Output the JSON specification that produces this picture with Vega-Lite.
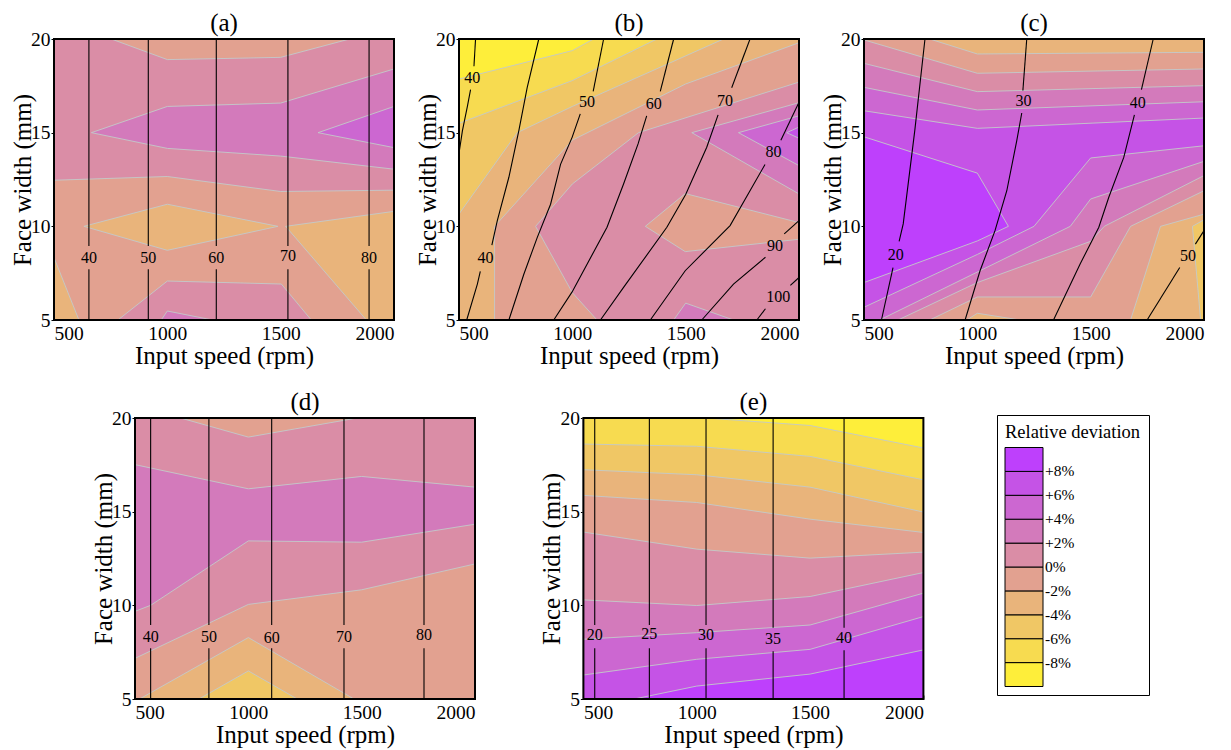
{
 "$schema": "https://vega.github.io/schema/vega-lite/v6.json",
 "background": "white",
 "padding": {"left": 10, "top": 11, "right": 5, "bottom": 5},
 "config": {
  "font": "Liberation Serif",
  "view": {"stroke": null},
  "axis": {"labelFont": "Liberation Serif", "labelFontSize": 19.5, "labelColor": "black", "titleFont": "Liberation Serif", "titleFontSize": 25, "titleFontWeight": "normal", "titleColor": "black", "grid": false, "domain": false, "ticks": true, "tickColor": "black", "tickWidth": 1, "zindex": 1},
  "axisX": {"titlePadding": 1, "labelPadding": 8, "tickSize": -4},
  "axisY": {"titlePadding": -5, "labelPadding": 1, "tickSize": 3},
  "title": {"font": "Liberation Serif", "fontSize": 25, "fontWeight": "normal", "color": "black", "offset": -7},
  "text": {"font": "Liberation Serif"},
  "legend": {"titleFont": "Liberation Serif", "titleFontSize": 18.5, "titleFontWeight": "normal", "titleColor": "black", "labelFont": "Liberation Serif", "labelFontSize": 15.5, "labelColor": "black", "labelOffset": 12, "gradientLength": 239, "gradientThickness": 38, "gradientStrokeColor": "black", "gradientStrokeWidth": 1, "strokeColor": "black", "padding": 8, "titlePadding": 6, "labelOverlap": false, "direction": "vertical"}
 },
 "datasets": {
  "pa": [
   {"id":1,"o":100,"x":500,"y":5,"v":1},{"id":1,"o":101,"x":2000,"y":5,"v":1},{"id":1,"o":102,"x":2000,"y":20,"v":1},{"id":1,"o":103,"x":500,"y":20,"v":1},{"id":1,"o":104,"x":500,"y":5,"v":1},
   {"id":2,"o":200,"x":753,"y":20,"v":-1},{"id":2,"o":201,"x":1000,"y":18.9,"v":-1},{"id":2,"o":202,"x":1500,"y":19.02,"v":-1},{"id":2,"o":203,"x":1804,"y":20,"v":-1},{"id":2,"o":204,"x":753,"y":20,"v":-1},
   {"id":3,"o":300,"x":500,"y":12.46,"v":-1},{"id":3,"o":301,"x":1000,"y":12.66,"v":-1},{"id":3,"o":302,"x":1500,"y":11.86,"v":-1},{"id":3,"o":303,"x":2000,"y":11.93,"v":-1},{"id":3,"o":304,"x":2000,"y":5,"v":-1},{"id":3,"o":305,"x":1635,"y":5,"v":-1},{"id":3,"o":306,"x":1503,"y":6.92,"v":-1},{"id":3,"o":307,"x":1000,"y":7.08,"v":-1},{"id":3,"o":308,"x":782,"y":5,"v":-1},{"id":3,"o":309,"x":500,"y":5,"v":-1},{"id":3,"o":310,"x":500,"y":12.46,"v":-1},
   {"id":4,"o":400,"x":632,"y":10,"v":-3},{"id":4,"o":401,"x":1000,"y":11.18,"v":-3},{"id":4,"o":402,"x":1488,"y":10,"v":-3},{"id":4,"o":403,"x":1000,"y":8.72,"v":-3},{"id":4,"o":404,"x":632,"y":10,"v":-3},
   {"id":5,"o":500,"x":1522,"y":10,"v":-3},{"id":5,"o":501,"x":2000,"y":10.8,"v":-3},{"id":5,"o":502,"x":2000,"y":5,"v":-3},{"id":5,"o":503,"x":1878,"y":5,"v":-3},{"id":5,"o":504,"x":1522,"y":10,"v":-3},
   {"id":6,"o":600,"x":500,"y":8.33,"v":-3},{"id":6,"o":601,"x":610,"y":5,"v":-3},{"id":6,"o":602,"x":500,"y":5,"v":-3},{"id":6,"o":603,"x":500,"y":8.33,"v":-3},
   {"id":7,"o":700,"x":665,"y":15,"v":3},{"id":7,"o":701,"x":1000,"y":16.4,"v":3},{"id":7,"o":702,"x":1500,"y":16.58,"v":3},{"id":7,"o":703,"x":2000,"y":18.4,"v":3},{"id":7,"o":704,"x":2000,"y":13.05,"v":3},{"id":7,"o":705,"x":1500,"y":13.75,"v":3},{"id":7,"o":706,"x":1000,"y":14.16,"v":3},{"id":7,"o":707,"x":665,"y":15,"v":3},
   {"id":8,"o":800,"x":973,"y":5,"v":3},{"id":8,"o":801,"x":1000,"y":5.48,"v":3},{"id":8,"o":802,"x":1200,"y":5,"v":3},{"id":8,"o":803,"x":973,"y":5,"v":3},
   {"id":9,"o":900,"x":1665,"y":15,"v":5},{"id":9,"o":901,"x":2000,"y":16.4,"v":5},{"id":9,"o":902,"x":2000,"y":14.2,"v":5},{"id":9,"o":903,"x":1665,"y":15,"v":5}
  ],
  "la": [
   {"s":1,"o":100,"x":654,"y":20},{"s":1,"o":101,"x":654,"y":8.95},{"s":2,"o":200,"x":654,"y":7.71},{"s":2,"o":201,"x":654,"y":5},
   {"s":3,"o":300,"x":916,"y":20},{"s":3,"o":301,"x":916,"y":8.95},{"s":4,"o":400,"x":916,"y":7.71},{"s":4,"o":401,"x":916,"y":5},
   {"s":5,"o":500,"x":1216,"y":20},{"s":5,"o":501,"x":1216,"y":8.95},{"s":6,"o":600,"x":1216,"y":7.71},{"s":6,"o":601,"x":1216,"y":5},
   {"s":7,"o":700,"x":1532,"y":20},{"s":7,"o":701,"x":1532,"y":8.95},{"s":8,"o":800,"x":1532,"y":7.71},{"s":8,"o":801,"x":1532,"y":5},
   {"s":9,"o":900,"x":1890,"y":20},{"s":9,"o":901,"x":1890,"y":8.95},{"s":10,"o":1000,"x":1890,"y":7.71},{"s":10,"o":1001,"x":1890,"y":5}
  ],
  "ta": [
   {"x":654,"y":8.33,"t":"40"},{"x":916,"y":8.33,"t":"50"},{"x":1216,"y":8.33,"t":"60"},{"x":1532,"y":8.42,"t":"70"},{"x":1890,"y":8.33,"t":"80"}
  ],
  "pb": [
   {"id":1,"o":100,"x":500,"y":5,"v":-9},{"id":1,"o":101,"x":2000,"y":5,"v":-9},{"id":1,"o":102,"x":2000,"y":20,"v":-9},{"id":1,"o":103,"x":500,"y":20,"v":-9},{"id":1,"o":104,"x":500,"y":5,"v":-9},
   {"id":2,"o":200,"x":500,"y":17.86,"v":-7},{"id":2,"o":201,"x":1000,"y":19.38,"v":-7},{"id":2,"o":202,"x":1094,"y":20,"v":-7},{"id":2,"o":203,"x":2000,"y":20,"v":-7},{"id":2,"o":204,"x":2000,"y":5,"v":-7},{"id":2,"o":205,"x":500,"y":5,"v":-7},{"id":2,"o":206,"x":500,"y":17.86,"v":-7},
   {"id":3,"o":300,"x":500,"y":15.5,"v":-5},{"id":3,"o":301,"x":1000,"y":17.78,"v":-5},{"id":3,"o":302,"x":1373,"y":20,"v":-5},{"id":3,"o":303,"x":2000,"y":20,"v":-5},{"id":3,"o":304,"x":2000,"y":5,"v":-5},{"id":3,"o":305,"x":500,"y":5,"v":-5},{"id":3,"o":306,"x":500,"y":15.5,"v":-5},
   {"id":4,"o":400,"x":500,"y":10.66,"v":-3},{"id":4,"o":401,"x":757,"y":15,"v":-3},{"id":4,"o":402,"x":1000,"y":16.4,"v":-3},{"id":4,"o":403,"x":1667,"y":20,"v":-3},{"id":4,"o":404,"x":2000,"y":20,"v":-3},{"id":4,"o":405,"x":2000,"y":5,"v":-3},{"id":4,"o":406,"x":500,"y":5,"v":-3},{"id":4,"o":407,"x":500,"y":10.66,"v":-3},
   {"id":5,"o":500,"x":657,"y":5,"v":-1},{"id":5,"o":501,"x":657,"y":10,"v":-1},{"id":5,"o":502,"x":1000,"y":14.6,"v":-1},{"id":5,"o":503,"x":1500,"y":17.6,"v":-1},{"id":5,"o":504,"x":2000,"y":19.8,"v":-1},{"id":5,"o":505,"x":2000,"y":5,"v":-1},{"id":5,"o":506,"x":657,"y":5,"v":-1},
   {"id":6,"o":600,"x":838,"y":10,"v":1},{"id":6,"o":601,"x":1000,"y":12.26,"v":1},{"id":6,"o":602,"x":1292,"y":15,"v":1},{"id":6,"o":603,"x":2000,"y":17.7,"v":1},{"id":6,"o":604,"x":2000,"y":5,"v":1},{"id":6,"o":605,"x":1109,"y":5,"v":1},{"id":6,"o":606,"x":1000,"y":6.46,"v":1},{"id":6,"o":607,"x":838,"y":10,"v":1},
   {"id":7,"o":700,"x":1322,"y":10,"v":-1},{"id":7,"o":701,"x":1498,"y":11.75,"v":-1},{"id":7,"o":702,"x":2000,"y":10.2,"v":-1},{"id":7,"o":703,"x":2000,"y":9.31,"v":-1},{"id":7,"o":704,"x":1498,"y":8.65,"v":-1},{"id":7,"o":705,"x":1322,"y":10,"v":-1},
   {"id":8,"o":800,"x":1527,"y":15,"v":3},{"id":8,"o":801,"x":2000,"y":16.6,"v":3},{"id":8,"o":802,"x":2000,"y":11.73,"v":3},{"id":8,"o":803,"x":1527,"y":15,"v":3},
   {"id":9,"o":900,"x":1447,"y":5,"v":3},{"id":9,"o":901,"x":1500,"y":5.9,"v":3},{"id":9,"o":902,"x":1711,"y":5,"v":3},{"id":9,"o":903,"x":1447,"y":5,"v":3},
   {"id":10,"o":1000,"x":1733,"y":15,"v":5},{"id":10,"o":1001,"x":2000,"y":15.9,"v":5},{"id":10,"o":1002,"x":2000,"y":13.24,"v":5},{"id":10,"o":1003,"x":1733,"y":15,"v":5},
   {"id":11,"o":1100,"x":1946,"y":15,"v":7},{"id":11,"o":1101,"x":2000,"y":15.3,"v":7},{"id":11,"o":1102,"x":2000,"y":14.7,"v":7},{"id":11,"o":1103,"x":1946,"y":15,"v":7}
  ],
  "lb": [
   {"s":1,"o":100,"x":573,"y":20},{"s":1,"o":101,"x":566,"y":18.55},
   {"s":2,"o":200,"x":551,"y":17.3},{"s":2,"o":201,"x":537,"y":16.4},{"s":2,"o":202,"x":515,"y":15.1},{"s":2,"o":203,"x":500,"y":13.9},
   {"s":3,"o":300,"x":852,"y":20},{"s":3,"o":301,"x":801,"y":17.42},{"s":3,"o":302,"x":764,"y":15.11},{"s":3,"o":303,"x":720,"y":12.62},{"s":3,"o":304,"x":669,"y":10.3},{"s":3,"o":305,"x":645,"y":9.0},
   {"s":4,"o":400,"x":594,"y":7.6},{"s":4,"o":401,"x":581,"y":6.92},{"s":4,"o":402,"x":534,"y":5},
   {"s":5,"o":500,"x":720,"y":5},{"s":5,"o":501,"x":786,"y":7.44},{"s":5,"o":502,"x":845,"y":9.4},{"s":5,"o":503,"x":904,"y":11.18},{"s":5,"o":504,"x":948,"y":13.31},{"s":5,"o":505,"x":999,"y":14.75},{"s":5,"o":506,"x":1035,"y":16.0},
   {"s":6,"o":600,"x":1092,"y":17.2},{"s":6,"o":601,"x":1138,"y":20},
   {"s":7,"o":700,"x":918,"y":5},{"s":7,"o":701,"x":999,"y":6.5},{"s":7,"o":702,"x":1153,"y":9.95},{"s":7,"o":703,"x":1226,"y":12.26},{"s":7,"o":704,"x":1290,"y":14.4},{"s":7,"o":705,"x":1328,"y":15.9},
   {"s":8,"o":800,"x":1388,"y":17.2},{"s":8,"o":801,"x":1447,"y":20},
   {"s":9,"o":900,"x":1124,"y":5},{"s":9,"o":901,"x":1226,"y":6.74},{"s":9,"o":902,"x":1417,"y":9.95},{"s":9,"o":903,"x":1500,"y":11.7},{"s":9,"o":904,"x":1593,"y":14.22},{"s":9,"o":905,"x":1643,"y":15.95},
   {"s":10,"o":1000,"x":1703,"y":17.4},{"s":10,"o":1001,"x":1784,"y":20},
   {"s":11,"o":1100,"x":1344,"y":5},{"s":11,"o":1101,"x":1498,"y":7.63},{"s":11,"o":1102,"x":1696,"y":10.04},{"s":11,"o":1103,"x":1850,"y":13.3},
   {"s":12,"o":1200,"x":1920,"y":14.6},{"s":12,"o":1201,"x":2000,"y":16.62},
   {"s":13,"o":1300,"x":1571,"y":5},{"s":13,"o":1301,"x":1711,"y":6.92},{"s":13,"o":1302,"x":1852,"y":8.35},
   {"s":14,"o":1400,"x":1935,"y":9.6},{"s":14,"o":1401,"x":2000,"y":10.3},
   {"s":15,"o":1500,"x":1814,"y":5},{"s":15,"o":1501,"x":1852,"y":5.6},
   {"s":16,"o":1600,"x":1962,"y":6.85},{"s":16,"o":1601,"x":2000,"y":7.27}
  ],
  "tb": [
   {"x":559,"y":17.9,"t":"40"},{"x":617,"y":8.29,"t":"40"},{"x":1065,"y":16.62,"t":"50"},{"x":1359,"y":16.53,"t":"60"},{"x":1674,"y":16.7,"t":"70"},{"x":1887,"y":13.95,"t":"80"},{"x":1894,"y":8.97,"t":"90"},{"x":1909,"y":6.21,"t":"100"}
  ],
  "pc": [
   {"id":1,"o":100,"x":500,"y":5,"v":-5},{"id":1,"o":101,"x":2000,"y":5,"v":-5},{"id":1,"o":102,"x":2000,"y":20,"v":-5},{"id":1,"o":103,"x":500,"y":20,"v":-5},{"id":1,"o":104,"x":500,"y":5,"v":-5},
   {"id":2,"o":200,"x":500,"y":5,"v":-3},{"id":2,"o":201,"x":1985,"y":5,"v":-3},{"id":2,"o":202,"x":1949,"y":10,"v":-3},{"id":2,"o":203,"x":2000,"y":10.35,"v":-3},{"id":2,"o":204,"x":2000,"y":20,"v":-3},{"id":2,"o":205,"x":500,"y":20,"v":-3},{"id":2,"o":206,"x":500,"y":5,"v":-3},
   {"id":3,"o":300,"x":500,"y":20,"v":-1},{"id":3,"o":301,"x":790,"y":20,"v":-1},{"id":3,"o":302,"x":1000,"y":19.2,"v":-1},{"id":3,"o":303,"x":2000,"y":19.29,"v":-1},{"id":3,"o":304,"x":2000,"y":10.65,"v":-1},{"id":3,"o":305,"x":1808,"y":10,"v":-1},{"id":3,"o":306,"x":1676,"y":5,"v":-1},{"id":3,"o":307,"x":1189,"y":5,"v":-1},{"id":3,"o":308,"x":1000,"y":5.36,"v":-1},{"id":3,"o":309,"x":953,"y":5,"v":-1},{"id":3,"o":310,"x":500,"y":5,"v":-1},{"id":3,"o":311,"x":500,"y":20,"v":-1},
   {"id":4,"o":400,"x":500,"y":19.95,"v":1},{"id":4,"o":401,"x":1000,"y":18.17,"v":1},{"id":4,"o":402,"x":2000,"y":18.4,"v":1},{"id":4,"o":403,"x":2000,"y":11.9,"v":1},{"id":4,"o":404,"x":1676,"y":10,"v":1},{"id":4,"o":405,"x":1500,"y":6.23,"v":1},{"id":4,"o":406,"x":1000,"y":6.23,"v":1},{"id":4,"o":407,"x":790,"y":5,"v":1},{"id":4,"o":408,"x":500,"y":5,"v":1},{"id":4,"o":409,"x":500,"y":19.95,"v":1},
   {"id":5,"o":500,"x":500,"y":18.7,"v":3},{"id":5,"o":501,"x":1000,"y":17.19,"v":3},{"id":5,"o":502,"x":2000,"y":17.51,"v":3},{"id":5,"o":503,"x":2000,"y":12.71,"v":3},{"id":5,"o":504,"x":1560,"y":10,"v":3},{"id":5,"o":505,"x":1500,"y":9.2,"v":3},{"id":5,"o":506,"x":1000,"y":7.0,"v":3},{"id":5,"o":507,"x":650,"y":5,"v":3},{"id":5,"o":508,"x":500,"y":5,"v":3},{"id":5,"o":509,"x":500,"y":18.7,"v":3},
   {"id":6,"o":600,"x":500,"y":17.42,"v":5},{"id":6,"o":601,"x":1000,"y":16.21,"v":5},{"id":6,"o":602,"x":2000,"y":16.65,"v":5},{"id":6,"o":603,"x":2000,"y":13.47,"v":5},{"id":6,"o":604,"x":1500,"y":11.46,"v":5},{"id":6,"o":605,"x":1410,"y":10,"v":5},{"id":6,"o":606,"x":1000,"y":7.56,"v":5},{"id":6,"o":607,"x":569,"y":5,"v":5},{"id":6,"o":608,"x":500,"y":5,"v":5},{"id":6,"o":609,"x":500,"y":17.42,"v":5},
   {"id":7,"o":700,"x":500,"y":16.17,"v":7},{"id":7,"o":701,"x":1000,"y":15.23,"v":7},{"id":7,"o":702,"x":2000,"y":15.78,"v":7},{"id":7,"o":703,"x":2000,"y":14.3,"v":7},{"id":7,"o":704,"x":1500,"y":13.65,"v":7},{"id":7,"o":705,"x":1250,"y":10,"v":7},{"id":7,"o":706,"x":1000,"y":8.5,"v":7},{"id":7,"o":707,"x":500,"y":5.68,"v":7},{"id":7,"o":708,"x":500,"y":16.17,"v":7},
   {"id":8,"o":800,"x":500,"y":14.78,"v":9},{"id":8,"o":801,"x":1000,"y":12.84,"v":9},{"id":8,"o":802,"x":1137,"y":10,"v":9},{"id":8,"o":803,"x":1000,"y":9.22,"v":9},{"id":8,"o":804,"x":500,"y":7.0,"v":9},{"id":8,"o":805,"x":500,"y":14.78,"v":9}
  ],
  "lc": [
   {"s":1,"o":100,"x":769,"y":20},{"s":1,"o":101,"x":724,"y":15.11},{"s":1,"o":102,"x":673,"y":10.13},{"s":1,"o":103,"x":655,"y":9.2},
   {"s":2,"o":200,"x":628,"y":7.8},{"s":2,"o":201,"x":577,"y":5},
   {"s":3,"o":300,"x":1218,"y":20},{"s":3,"o":301,"x":1201,"y":17.25},
   {"s":4,"o":400,"x":1196,"y":16.05},{"s":4,"o":401,"x":1174,"y":14.57},{"s":4,"o":402,"x":1130,"y":11.9},{"s":4,"o":403,"x":1078,"y":9.77},{"s":4,"o":404,"x":1012,"y":7.63},{"s":4,"o":405,"x":946,"y":5},
   {"s":5,"o":500,"x":1776,"y":20},{"s":5,"o":501,"x":1724,"y":17.3},
   {"s":6,"o":600,"x":1693,"y":15.95},{"s":6,"o":601,"x":1646,"y":13.68},{"s":6,"o":602,"x":1580,"y":11.55},{"s":6,"o":603,"x":1536,"y":9.95},{"s":6,"o":604,"x":1454,"y":8.0},{"s":6,"o":605,"x":1336,"y":5},
   {"s":7,"o":700,"x":2000,"y":9.77},{"s":7,"o":701,"x":1962,"y":9.05},
   {"s":8,"o":800,"x":1893,"y":7.8},{"s":8,"o":801,"x":1749,"y":5}
  ],
  "tc": [
   {"x":640,"y":8.49,"t":"20"},{"x":1204,"y":16.67,"t":"30"},{"x":1708,"y":16.57,"t":"40"},{"x":1929,"y":8.43,"t":"50"}
  ],
  "pd": [
   {"id":1,"o":100,"x":500,"y":5,"v":1},{"id":1,"o":101,"x":2000,"y":5,"v":1},{"id":1,"o":102,"x":2000,"y":20,"v":1},{"id":1,"o":103,"x":500,"y":20,"v":1},{"id":1,"o":104,"x":500,"y":5,"v":1},
   {"id":2,"o":200,"x":701,"y":20,"v":-1},{"id":2,"o":201,"x":1000,"y":18.98,"v":-1},{"id":2,"o":202,"x":1480,"y":20,"v":-1},{"id":2,"o":203,"x":701,"y":20,"v":-1},
   {"id":3,"o":300,"x":500,"y":17.51,"v":3},{"id":3,"o":301,"x":1000,"y":16.22,"v":3},{"id":3,"o":302,"x":1500,"y":16.88,"v":3},{"id":3,"o":303,"x":2000,"y":16.31,"v":3},{"id":3,"o":304,"x":2000,"y":14.33,"v":3},{"id":3,"o":305,"x":1500,"y":13.37,"v":3},{"id":3,"o":306,"x":1000,"y":13.44,"v":3},{"id":3,"o":307,"x":569,"y":10,"v":3},{"id":3,"o":308,"x":500,"y":9.68,"v":3},{"id":3,"o":309,"x":500,"y":17.51,"v":3},
   {"id":4,"o":400,"x":500,"y":7.17,"v":-1},{"id":4,"o":401,"x":1000,"y":10.05,"v":-1},{"id":4,"o":402,"x":1500,"y":10.83,"v":-1},{"id":4,"o":403,"x":2000,"y":12.21,"v":-1},{"id":4,"o":404,"x":2000,"y":5,"v":-1},{"id":4,"o":405,"x":500,"y":5,"v":-1},{"id":4,"o":406,"x":500,"y":7.17,"v":-1},
   {"id":5,"o":500,"x":520,"y":5,"v":-3},{"id":5,"o":501,"x":1000,"y":8.28,"v":-3},{"id":5,"o":502,"x":1466,"y":5,"v":-3},{"id":5,"o":503,"x":520,"y":5,"v":-3},
   {"id":6,"o":600,"x":782,"y":5,"v":-5},{"id":6,"o":601,"x":1000,"y":6.5,"v":-5},{"id":6,"o":602,"x":1216,"y":5,"v":-5},{"id":6,"o":603,"x":782,"y":5,"v":-5}
  ],
  "ld": [
   {"s":1,"o":100,"x":569,"y":20},{"s":1,"o":101,"x":569,"y":8.95},{"s":2,"o":200,"x":569,"y":7.71},{"s":2,"o":201,"x":569,"y":5},
   {"s":3,"o":300,"x":826,"y":20},{"s":3,"o":301,"x":826,"y":8.95},{"s":4,"o":400,"x":826,"y":7.71},{"s":4,"o":401,"x":826,"y":5},
   {"s":5,"o":500,"x":1103,"y":20},{"s":5,"o":501,"x":1103,"y":8.95},{"s":6,"o":600,"x":1103,"y":7.71},{"s":6,"o":601,"x":1103,"y":5},
   {"s":7,"o":700,"x":1422,"y":20},{"s":7,"o":701,"x":1422,"y":8.95},{"s":8,"o":800,"x":1422,"y":7.71},{"s":8,"o":801,"x":1422,"y":5},
   {"s":9,"o":900,"x":1775,"y":20},{"s":9,"o":901,"x":1775,"y":8.95},{"s":10,"o":1000,"x":1775,"y":7.71},{"s":10,"o":1001,"x":1775,"y":5}
  ],
  "td": [
   {"x":569,"y":8.33,"t":"40"},{"x":826,"y":8.33,"t":"50"},{"x":1103,"y":8.24,"t":"60"},{"x":1422,"y":8.33,"t":"70"},{"x":1775,"y":8.42,"t":"80"}
  ],
  "pe": [
   {"id":1,"o":100,"x":500,"y":5,"v":9},{"id":1,"o":101,"x":2000,"y":5,"v":9},{"id":1,"o":102,"x":2000,"y":20,"v":9},{"id":1,"o":103,"x":500,"y":20,"v":9},{"id":1,"o":104,"x":500,"y":5,"v":9},
   {"id":2,"o":200,"x":500,"y":20,"v":7},{"id":2,"o":201,"x":500,"y":5,"v":7},{"id":2,"o":202,"x":724,"y":5,"v":7},{"id":2,"o":203,"x":1000,"y":5.69,"v":7},{"id":2,"o":204,"x":1500,"y":6.33,"v":7},{"id":2,"o":205,"x":2000,"y":7.62,"v":7},{"id":2,"o":206,"x":2000,"y":20,"v":7},{"id":2,"o":207,"x":500,"y":20,"v":7},
   {"id":3,"o":300,"x":500,"y":6.28,"v":5},{"id":3,"o":301,"x":1000,"y":7.12,"v":5},{"id":3,"o":302,"x":1500,"y":7.65,"v":5},{"id":3,"o":303,"x":2000,"y":9.4,"v":5},{"id":3,"o":304,"x":2000,"y":20,"v":5},{"id":3,"o":305,"x":500,"y":20,"v":5},{"id":3,"o":306,"x":500,"y":6.28,"v":5},
   {"id":4,"o":400,"x":500,"y":8.19,"v":3},{"id":4,"o":401,"x":1000,"y":8.54,"v":3},{"id":4,"o":402,"x":1500,"y":8.95,"v":3},{"id":4,"o":403,"x":2000,"y":10.65,"v":3},{"id":4,"o":404,"x":2000,"y":20,"v":3},{"id":4,"o":405,"x":500,"y":20,"v":3},{"id":4,"o":406,"x":500,"y":8.19,"v":3},
   {"id":5,"o":500,"x":500,"y":10.29,"v":1},{"id":5,"o":501,"x":1000,"y":9.99,"v":1},{"id":5,"o":502,"x":1500,"y":10.47,"v":1},{"id":5,"o":503,"x":2000,"y":11.75,"v":1},{"id":5,"o":504,"x":2000,"y":20,"v":1},{"id":5,"o":505,"x":500,"y":20,"v":1},{"id":5,"o":506,"x":500,"y":10.29,"v":1},
   {"id":6,"o":600,"x":500,"y":13.91,"v":-1},{"id":6,"o":601,"x":1000,"y":13.0,"v":-1},{"id":6,"o":602,"x":1500,"y":12.52,"v":-1},{"id":6,"o":603,"x":2000,"y":12.84,"v":-1},{"id":6,"o":604,"x":2000,"y":20,"v":-1},{"id":6,"o":605,"x":500,"y":20,"v":-1},{"id":6,"o":606,"x":500,"y":13.91,"v":-1},
   {"id":7,"o":700,"x":500,"y":15.87,"v":-3},{"id":7,"o":701,"x":1000,"y":15.49,"v":-3},{"id":7,"o":702,"x":1500,"y":14.6,"v":-3},{"id":7,"o":703,"x":2000,"y":13.89,"v":-3},{"id":7,"o":704,"x":2000,"y":20,"v":-3},{"id":7,"o":705,"x":500,"y":20,"v":-3},{"id":7,"o":706,"x":500,"y":15.87,"v":-3},
   {"id":8,"o":800,"x":500,"y":17.24,"v":-5},{"id":8,"o":801,"x":1000,"y":16.97,"v":-5},{"id":8,"o":802,"x":1500,"y":16.31,"v":-5},{"id":8,"o":803,"x":2000,"y":14.98,"v":-5},{"id":8,"o":804,"x":2000,"y":20,"v":-5},{"id":8,"o":805,"x":500,"y":20,"v":-5},{"id":8,"o":806,"x":500,"y":17.24,"v":-5},
   {"id":9,"o":900,"x":500,"y":18.61,"v":-7},{"id":9,"o":901,"x":1000,"y":18.49,"v":-7},{"id":9,"o":902,"x":1500,"y":17.95,"v":-7},{"id":9,"o":903,"x":2000,"y":16.7,"v":-7},{"id":9,"o":904,"x":2000,"y":20,"v":-7},{"id":9,"o":905,"x":500,"y":20,"v":-7},{"id":9,"o":906,"x":500,"y":18.61,"v":-7},
   {"id":10,"o":1000,"x":1040,"y":20,"v":-9},{"id":10,"o":1001,"x":1500,"y":19.6,"v":-9},{"id":10,"o":1002,"x":2000,"y":18.4,"v":-9},{"id":10,"o":1003,"x":2000,"y":20,"v":-9},{"id":10,"o":1004,"x":1040,"y":20,"v":-9}
  ],
  "le": [
   {"s":1,"o":100,"x":550,"y":20},{"s":1,"o":101,"x":550,"y":8.95},{"s":2,"o":200,"x":550,"y":7.71},{"s":2,"o":201,"x":550,"y":5},
   {"s":3,"o":300,"x":791,"y":20},{"s":3,"o":301,"x":791,"y":8.95},{"s":4,"o":400,"x":791,"y":7.71},{"s":4,"o":401,"x":791,"y":5},
   {"s":5,"o":500,"x":1041,"y":20},{"s":5,"o":501,"x":1041,"y":8.95},{"s":6,"o":600,"x":1041,"y":7.71},{"s":6,"o":601,"x":1041,"y":5},
   {"s":7,"o":700,"x":1337,"y":20},{"s":7,"o":701,"x":1337,"y":8.8},{"s":8,"o":800,"x":1337,"y":7.55},{"s":8,"o":801,"x":1337,"y":5},
   {"s":9,"o":900,"x":1650,"y":20},{"s":9,"o":901,"x":1650,"y":8.8},{"s":10,"o":1000,"x":1650,"y":7.6},{"s":10,"o":1001,"x":1650,"y":5}
  ],
  "te": [
   {"x":550,"y":8.42,"t":"20"},{"x":791,"y":8.47,"t":"25"},{"x":1041,"y":8.42,"t":"30"},{"x":1337,"y":8.19,"t":"35"},{"x":1650,"y":8.24,"t":"40"}
  ]
 },
 "spacing": 21,
 "vconcat": [
  {"bounds": "flush", "spacing": 65, "hconcat": [
   {"width": 340, "height": 281, "title": "(a)", "layer": [
    {"data": {"name": "pa"}, "mark": {"type": "line", "filled": true, "stroke": "#c3c9c9", "strokeWidth": 0.9},
     "encoding": {"x": {"field": "x", "type": "quantitative", "scale": {"domain": [500, 2000], "nice": false, "zero": false}, "axis": {"title": "Input speed (rpm)", "format": "d", "values": [500, 1000, 1500, 2000]}},
      "y": {"field": "y", "type": "quantitative", "scale": {"domain": [5, 20], "nice": false, "zero": false}, "axis": {"title": "Face width (mm)", "format": "d", "values": [5, 10, 15, 20]}},
      "detail": {"field": "id", "type": "nominal"}, "order": {"field": "o", "type": "quantitative"},
      "color": {"field": "v", "type": "quantitative", "scale": {"type": "threshold", "domain": [-8, -6, -4, -2, 0, 2, 4, 6, 8], "range": ["#feee3a", "#f7db50", "#f0c765", "#e9b47b", "#e2a190", "#da8da6", "#d37abb", "#cc67d1", "#c553e6", "#be40fc"]}, "legend": {"type": "gradient", "orient": "none", "legendX": 943, "legendY": 376, "title": "Relative deviation", "labelExpr": "isFinite(datum.value) ? (datum.value > 0 ? '+' : '') + datum.value + '%' : ''"}}}},
    {"data": {"name": "la"}, "mark": {"type": "line", "color": "black", "strokeWidth": 1.1},
     "encoding": {"x": {"field": "x", "type": "quantitative"}, "y": {"field": "y", "type": "quantitative"}, "detail": {"field": "s", "type": "nominal"}, "order": {"field": "o", "type": "quantitative"}}},
    {"data": {"name": "ta"}, "mark": {"type": "text", "fontSize": 16, "color": "black", "baseline": "middle"},
     "encoding": {"x": {"field": "x", "type": "quantitative"}, "y": {"field": "y", "type": "quantitative"}, "text": {"field": "t", "type": "nominal"}}},
    {"data": {"values": [{}]}, "mark": {"type": "rect", "filled": false, "color": "black", "strokeWidth": 2},
     "encoding": {"x": {"datum": 500}, "x2": {"datum": 2000}, "y": {"datum": 5}, "y2": {"datum": 20}}}
   ]},
   {"width": 340, "height": 281, "title": "(b)", "layer": [
    {"data": {"name": "pb"}, "mark": {"type": "line", "filled": true, "stroke": "#c3c9c9", "strokeWidth": 0.9},
     "encoding": {"x": {"field": "x", "type": "quantitative", "scale": {"domain": [500, 2000], "nice": false, "zero": false}, "axis": {"title": "Input speed (rpm)", "format": "d", "values": [500, 1000, 1500, 2000]}},
      "y": {"field": "y", "type": "quantitative", "scale": {"domain": [5, 20], "nice": false, "zero": false}, "axis": {"title": "Face width (mm)", "format": "d", "values": [5, 10, 15, 20]}},
      "detail": {"field": "id", "type": "nominal"}, "order": {"field": "o", "type": "quantitative"},
      "color": {"field": "v", "type": "quantitative", "scale": {"type": "threshold", "domain": [-8, -6, -4, -2, 0, 2, 4, 6, 8], "range": ["#feee3a", "#f7db50", "#f0c765", "#e9b47b", "#e2a190", "#da8da6", "#d37abb", "#cc67d1", "#c553e6", "#be40fc"]}, "legend": {"type": "gradient", "orient": "none", "legendX": 943, "legendY": 376, "title": "Relative deviation", "labelExpr": "isFinite(datum.value) ? (datum.value > 0 ? '+' : '') + datum.value + '%' : ''"}}}},
    {"data": {"name": "lb"}, "mark": {"type": "line", "color": "black", "strokeWidth": 1.1},
     "encoding": {"x": {"field": "x", "type": "quantitative"}, "y": {"field": "y", "type": "quantitative"}, "detail": {"field": "s", "type": "nominal"}, "order": {"field": "o", "type": "quantitative"}}},
    {"data": {"name": "tb"}, "mark": {"type": "text", "fontSize": 16, "color": "black", "baseline": "middle"},
     "encoding": {"x": {"field": "x", "type": "quantitative"}, "y": {"field": "y", "type": "quantitative"}, "text": {"field": "t", "type": "nominal"}}},
    {"data": {"values": [{}]}, "mark": {"type": "rect", "filled": false, "color": "black", "strokeWidth": 2},
     "encoding": {"x": {"datum": 500}, "x2": {"datum": 2000}, "y": {"datum": 5}, "y2": {"datum": 20}}}
   ]},
   {"width": 340, "height": 281, "title": "(c)", "layer": [
    {"data": {"name": "pc"}, "mark": {"type": "line", "filled": true, "stroke": "#c3c9c9", "strokeWidth": 0.9},
     "encoding": {"x": {"field": "x", "type": "quantitative", "scale": {"domain": [500, 2000], "nice": false, "zero": false}, "axis": {"title": "Input speed (rpm)", "format": "d", "values": [500, 1000, 1500, 2000]}},
      "y": {"field": "y", "type": "quantitative", "scale": {"domain": [5, 20], "nice": false, "zero": false}, "axis": {"title": "Face width (mm)", "format": "d", "values": [5, 10, 15, 20]}},
      "detail": {"field": "id", "type": "nominal"}, "order": {"field": "o", "type": "quantitative"},
      "color": {"field": "v", "type": "quantitative", "scale": {"type": "threshold", "domain": [-8, -6, -4, -2, 0, 2, 4, 6, 8], "range": ["#feee3a", "#f7db50", "#f0c765", "#e9b47b", "#e2a190", "#da8da6", "#d37abb", "#cc67d1", "#c553e6", "#be40fc"]}, "legend": {"type": "gradient", "orient": "none", "legendX": 943, "legendY": 376, "title": "Relative deviation", "labelExpr": "isFinite(datum.value) ? (datum.value > 0 ? '+' : '') + datum.value + '%' : ''"}}}},
    {"data": {"name": "lc"}, "mark": {"type": "line", "color": "black", "strokeWidth": 1.1},
     "encoding": {"x": {"field": "x", "type": "quantitative"}, "y": {"field": "y", "type": "quantitative"}, "detail": {"field": "s", "type": "nominal"}, "order": {"field": "o", "type": "quantitative"}}},
    {"data": {"name": "tc"}, "mark": {"type": "text", "fontSize": 16, "color": "black", "baseline": "middle"},
     "encoding": {"x": {"field": "x", "type": "quantitative"}, "y": {"field": "y", "type": "quantitative"}, "text": {"field": "t", "type": "nominal"}}},
    {"data": {"values": [{}]}, "mark": {"type": "rect", "filled": false, "color": "black", "strokeWidth": 2},
     "encoding": {"x": {"datum": 500}, "x2": {"datum": 2000}, "y": {"datum": 5}, "y2": {"datum": 20}}}
   ]}
  ]},
  {"bounds": "flush", "spacing": 0, "hconcat": [
   {"width": 81, "height": 281, "data": {"values": []}, "mark": "point"},
   {"bounds": "flush", "spacing": 108.4, "hconcat": [
    {"width": 340, "height": 281, "title": "(d)", "layer": [
     {"data": {"name": "pd"}, "mark": {"type": "line", "filled": true, "stroke": "#c3c9c9", "strokeWidth": 0.9},
      "encoding": {"x": {"field": "x", "type": "quantitative", "scale": {"domain": [500, 2000], "nice": false, "zero": false}, "axis": {"title": "Input speed (rpm)", "format": "d", "values": [500, 1000, 1500, 2000]}},
       "y": {"field": "y", "type": "quantitative", "scale": {"domain": [5, 20], "nice": false, "zero": false}, "axis": {"title": "Face width (mm)", "format": "d", "values": [5, 10, 15, 20]}},
       "detail": {"field": "id", "type": "nominal"}, "order": {"field": "o", "type": "quantitative"},
       "color": {"field": "v", "type": "quantitative", "scale": {"type": "threshold", "domain": [-8, -6, -4, -2, 0, 2, 4, 6, 8], "range": ["#feee3a", "#f7db50", "#f0c765", "#e9b47b", "#e2a190", "#da8da6", "#d37abb", "#cc67d1", "#c553e6", "#be40fc"]}, "legend": {"type": "gradient", "orient": "none", "legendX": 943, "legendY": 376, "title": "Relative deviation", "labelExpr": "isFinite(datum.value) ? (datum.value > 0 ? '+' : '') + datum.value + '%' : ''"}}}},
     {"data": {"name": "ld"}, "mark": {"type": "line", "color": "black", "strokeWidth": 1.1},
      "encoding": {"x": {"field": "x", "type": "quantitative"}, "y": {"field": "y", "type": "quantitative"}, "detail": {"field": "s", "type": "nominal"}, "order": {"field": "o", "type": "quantitative"}}},
     {"data": {"name": "td"}, "mark": {"type": "text", "fontSize": 16, "color": "black", "baseline": "middle"},
      "encoding": {"x": {"field": "x", "type": "quantitative"}, "y": {"field": "y", "type": "quantitative"}, "text": {"field": "t", "type": "nominal"}}},
     {"data": {"values": [{}]}, "mark": {"type": "rect", "filled": false, "color": "black", "strokeWidth": 2},
      "encoding": {"x": {"datum": 500}, "x2": {"datum": 2000}, "y": {"datum": 5}, "y2": {"datum": 20}}}
    ]},
    {"width": 340, "height": 281, "title": "(e)", "layer": [
     {"data": {"name": "pe"}, "mark": {"type": "line", "filled": true, "stroke": "#c3c9c9", "strokeWidth": 0.9},
      "encoding": {"x": {"field": "x", "type": "quantitative", "scale": {"domain": [500, 2000], "nice": false, "zero": false}, "axis": {"title": "Input speed (rpm)", "format": "d", "values": [500, 1000, 1500, 2000]}},
       "y": {"field": "y", "type": "quantitative", "scale": {"domain": [5, 20], "nice": false, "zero": false}, "axis": {"title": "Face width (mm)", "format": "d", "values": [5, 10, 15, 20]}},
       "detail": {"field": "id", "type": "nominal"}, "order": {"field": "o", "type": "quantitative"},
       "color": {"field": "v", "type": "quantitative", "scale": {"type": "threshold", "domain": [-8, -6, -4, -2, 0, 2, 4, 6, 8], "range": ["#feee3a", "#f7db50", "#f0c765", "#e9b47b", "#e2a190", "#da8da6", "#d37abb", "#cc67d1", "#c553e6", "#be40fc"]}, "legend": {"type": "gradient", "orient": "none", "legendX": 943, "legendY": 376, "title": "Relative deviation", "labelExpr": "isFinite(datum.value) ? (datum.value > 0 ? '+' : '') + datum.value + '%' : ''"}}}},
     {"data": {"name": "le"}, "mark": {"type": "line", "color": "black", "strokeWidth": 1.1},
      "encoding": {"x": {"field": "x", "type": "quantitative"}, "y": {"field": "y", "type": "quantitative"}, "detail": {"field": "s", "type": "nominal"}, "order": {"field": "o", "type": "quantitative"}}},
     {"data": {"name": "te"}, "mark": {"type": "text", "fontSize": 16, "color": "black", "baseline": "middle"},
      "encoding": {"x": {"field": "x", "type": "quantitative"}, "y": {"field": "y", "type": "quantitative"}, "text": {"field": "t", "type": "nominal"}}},
     {"data": {"values": [{}]}, "mark": {"type": "rect", "filled": false, "color": "black", "strokeWidth": 2},
      "encoding": {"x": {"datum": 500}, "x2": {"datum": 2000}, "y": {"datum": 5}, "y2": {"datum": 20}}}
    ]}
   ]}
  ]}
 ]
}
